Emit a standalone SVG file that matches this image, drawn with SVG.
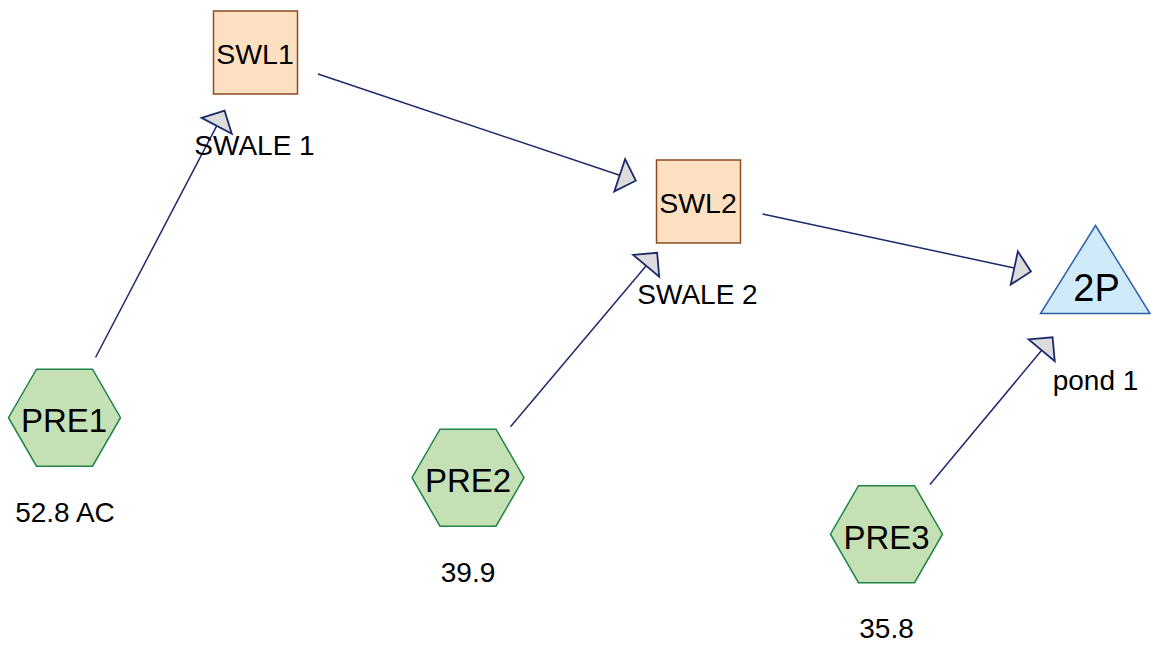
<svg xmlns="http://www.w3.org/2000/svg" width="1151" height="645" viewBox="0 0 1151 645">
  <style>
    .swale { fill: #fde0c2; stroke: #8a4b22; stroke-width: 1.5; }
    .sub { fill: #c5e0b5; stroke: #1f8447; stroke-width: 1.5; }
    .pond { fill: #cfeaf8; stroke: #2f5fa8; stroke-width: 1.5; }
    .link { fill: none; stroke: #1b2a6b; stroke-width: 1.5; marker-end: url(#head); }
    text { font-family: "Liberation Sans", Arial, sans-serif; fill: #000; text-anchor: middle; }
    .id-box { font-size: 28.5px; }
    .id-hex { font-size: 33px; }
    .id-pond { font-size: 38px; }
    .caption { font-size: 28px; }
  </style>
  <defs>
    <marker id="head" markerUnits="userSpaceOnUse" orient="auto" refX="0" refY="0" overflow="visible" markerWidth="40" markerHeight="40">
      <path d="M0,-17 L17,0 L0,17 Z" fill="#dcdcdc" stroke="#1b2a6b" stroke-width="1.8" stroke-linejoin="miter"/>
    </marker>
  </defs>

  <g id="connectors">
    <line class="link" x1="95.5" y1="357.5" x2="216.7" y2="125.8"/>
    <line class="link" x1="318" y1="74" x2="619.7" y2="175.3"/>
    <line class="link" x1="762.5" y1="214" x2="1014.3" y2="268"/>
    <line class="link" x1="510.5" y1="426.7" x2="646.2" y2="265.8"/>
    <line class="link" x1="930" y1="484.5" x2="1041.7" y2="350.3"/>
  </g>

  <g id="SWL1">
    <rect class="swale" x="213.5" y="11" width="84" height="83"/>
    <text class="id-box" x="255" y="64">SWL1</text>
    <text class="caption" x="254.5" y="155">SWALE 1</text>
  </g>

  <g id="SWL2">
    <rect class="swale" x="656.5" y="160" width="84" height="83"/>
    <text class="id-box" x="698" y="213">SWL2</text>
    <text class="caption" x="697.5" y="304">SWALE 2</text>
  </g>

  <g id="P2">
    <polygon class="pond" points="1095.5,225.5 1150,313.5 1040.5,313.5"/>
    <text class="id-pond" x="1096.5" y="301">2P</text>
    <text class="caption" x="1095.5" y="390">pond 1</text>
  </g>

  <g id="PRE1">
    <polygon class="sub" points="36.5,369.2 92.5,369.2 120.5,417.7 92.5,466.2 36.5,466.2 8.5,417.7"/>
    <text class="id-hex" x="64" y="432">PRE1</text>
    <text class="caption" x="65" y="522">52.8 AC</text>
  </g>

  <g id="PRE2">
    <polygon class="sub" points="440,429.2 496,429.2 524,477.7 496,526.2 440,526.2 412,477.7"/>
    <text class="id-hex" x="468" y="492">PRE2</text>
    <text class="caption" x="468" y="582">39.9</text>
  </g>

  <g id="PRE3">
    <polygon class="sub" points="858.5,485.7 914.5,485.7 942.5,534.2 914.5,582.7 858.5,582.7 830.5,534.2"/>
    <text class="id-hex" x="886.5" y="548.5">PRE3</text>
    <text class="caption" x="886.5" y="638">35.8</text>
  </g>
</svg>
